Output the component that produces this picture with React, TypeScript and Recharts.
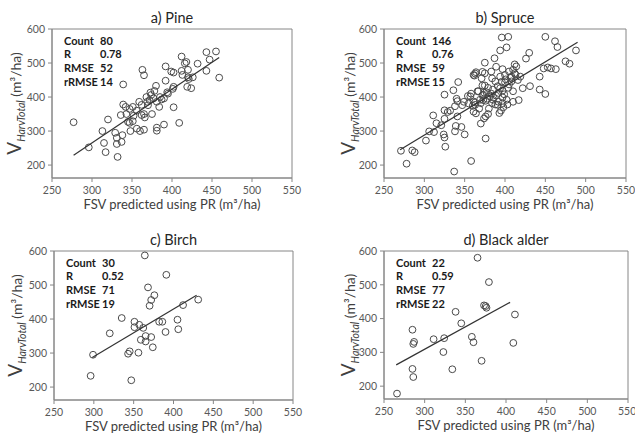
import React from 'react';
import { ScatterChart, Scatter, XAxis, YAxis, ReferenceArea, Label } from 'recharts';

const xTicks = [250, 300, 350, 400, 450, 500, 550];
const yTicks = [200, 300, 400, 500, 600];
const xDomain: [number, number] = [250, 550];
const yDomain: [number, number] = [162, 600];

const statLabels = ['Count', 'R', 'RMSE', 'rRMSE'];
const pineStats = ['80', '0.78', '52', '14'];
const spruceStats = ['146', '0.76', '59', '15'];
const birchStats = ['30', '0.52', '71', '19'];
const alderStats = ['22', '0.59', '77', '22'];

const pinePoints: [number, number][] = [
  [277, 326], [296, 252], [313, 300], [315, 265], [317, 238], [320, 334], [329, 295], [331, 280],
  [331, 262], [332, 224], [337, 268], [338, 288], [336, 347], [339, 378], [342, 371], [339, 437],
  [343, 350], [345, 327], [347, 324], [351, 371], [351, 329], [348, 300], [356, 307], [359, 386],
  [360, 300], [363, 480], [365, 464], [362, 347], [365, 304], [362, 377], [365, 350], [366, 340],
  [369, 386], [370, 376], [372, 391], [373, 413], [375, 350], [377, 396], [380, 433], [381, 386],
  [381, 310], [381, 301], [384, 371], [387, 393], [390, 319], [390, 396], [392, 448], [392, 490],
  [394, 414], [399, 475], [401, 424], [402, 370], [402, 472], [402, 430], [409, 324], [412, 519],
  [412, 477], [413, 465], [416, 499], [418, 503], [419, 430], [420, 480], [420, 458], [424, 426],
  [426, 458], [432, 498], [443, 532], [443, 477], [447, 510], [455, 534], [459, 457], [421, 453],
  [352, 345], [356, 360], [368, 400], [374, 406], [378, 418], [385, 400], [395, 410], [347, 365],
];

const sprucePoints: [number, number][] = [
  [271, 242], [278, 204], [285, 243], [288, 238], [302, 272], [306, 299], [312, 297], [315, 323],
  [311, 346], [321, 317], [324, 290], [325, 281], [326, 254], [325, 361], [325, 336], [329, 356],
  [338, 299], [339, 315], [350, 290], [341, 343], [338, 373], [340, 395], [325, 407], [336, 420],
  [342, 444], [363, 469], [372, 474], [367, 417], [358, 410], [354, 403], [349, 386], [347, 376],
  [355, 381], [360, 374], [363, 384], [368, 366], [372, 405], [375, 434], [358, 212], [337, 181],
  [341, 388], [346, 312], [364, 352], [373, 391], [374, 413], [361, 465], [332, 360],
  [396, 575], [404, 577], [402, 546], [394, 537], [387, 514], [375, 501], [389, 489], [397, 482],
  [412, 496], [414, 490], [410, 480], [405, 475], [413, 466], [419, 460], [408, 460], [400, 465],
  [394, 460], [383, 475], [384, 455], [364, 473], [362, 463], [375, 470], [371, 455], [426, 513],
  [430, 530], [450, 577], [462, 564], [465, 547], [475, 505], [480, 498], [443, 460], [448, 484],
  [453, 487], [457, 484], [463, 482], [431, 432], [422, 426], [443, 422], [450, 409], [410, 386],
  [417, 391], [388, 446], [400, 443], [408, 446], [416, 450], [372, 434], [379, 427], [385, 422],
  [391, 432], [397, 419], [404, 427], [410, 417], [366, 417], [373, 407], [381, 402], [389, 404],
  [397, 399], [357, 402], [361, 387], [370, 382], [376, 389], [384, 382], [391, 377], [397, 382],
  [363, 377], [395, 360], [393, 353], [361, 357], [379, 350], [376, 343], [374, 337], [370, 322],
  [376, 278], [488, 537],
  [378, 395], [383, 410], [386, 398], [392, 412], [399, 408], [402, 392], [405, 437], [394, 426],
  [388, 378], [380, 366], [396, 445], [401, 452], [407, 457], [412, 470], [385, 392], [377, 414],
  [369, 392], [392, 386], [398, 370], [403, 378],
];

const birchPoints: [number, number][] = [
  [364, 587], [391, 530], [368, 493], [376, 470], [372, 456], [370, 439], [335, 403], [351, 392],
  [351, 376], [362, 374], [357, 383], [320, 358], [382, 392], [386, 392], [405, 398], [406, 370],
  [390, 362], [412, 441], [431, 457], [365, 350], [372, 347], [359, 339], [365, 334], [374, 317],
  [345, 305], [343, 298], [356, 301], [299, 295], [296, 233], [347, 220],
];

const alderPoints: [number, number][] = [
  [365, 580], [379, 508], [373, 439], [375, 437], [376, 432], [411, 412], [338, 420], [345, 386],
  [285, 367], [287, 331], [286, 325], [311, 339], [324, 342], [358, 346], [360, 330], [409, 328],
  [323, 301], [370, 275], [334, 250], [285, 251], [286, 227], [266, 178],
];

const pineFit: [number, number][] = [[277, 229], [459, 516]];
const spruceFit: [number, number][] = [[270, 245], [490, 561]];
const birchFit: [number, number][] = [[298, 287], [429, 470]];
const alderFit: [number, number][] = [[265, 263], [405, 448]];

const W = 635;
const H = 434;
const FONT = 'Lato, "Open Sans", sans-serif';
const Y_AXIS_W = 40;
const X_AXIS_H = 30;

type PanelProps = {
  title: string;
  stats: string[];
  points: [number, number][];
  fit: [number, number][];
  plotLeft: number;
  plotTop: number;
  plotRight: number;
  plotBottom: number;
  yLabelX: number;
};

const Dot = (p: any) => (
  <circle cx={p.cx} cy={p.cy} r={3.4} fill="none" stroke="#4a4a4a" strokeWidth={1} />
);
const NoDot = () => <g />;

function Panel({ title, stats, points, fit, plotLeft, plotTop, plotRight, plotBottom, yLabelX }: PanelProps) {
  const data = points.map(([x, y]) => ({ x, y }));
  const fitData = fit.map(([x, y]) => ({ x, y }));
  const margin = {
    left: plotLeft - Y_AXIS_W,
    top: plotTop,
    right: W - plotRight,
    bottom: H - plotBottom - X_AXIS_H,
  };
  const cx = (plotLeft + plotRight) / 2;
  const cy = (plotTop + plotBottom) / 2;
  return (
    <div style={{ position: 'absolute', left: 0, top: 0, width: W, height: H }}>
      <ScatterChart width={W} height={H} margin={margin}>
        <XAxis
          type="number"
          dataKey="x"
          domain={xDomain}
          ticks={xTicks}
          allowDataOverflow
          height={X_AXIS_H}
          tickSize={4}
          tickMargin={5}
          stroke="#868686"
          tick={{ fill: '#595959', fontSize: 10.5, fontFamily: FONT }}
        >
          <Label
            content={() => (
              <text x={cx} y={plotBottom + 31} textAnchor="middle" fill="#404040" fontSize={13} fontFamily={FONT}>
                FSV predicted using PR (m³/ha)
              </text>
            )}
          />
        </XAxis>
        <YAxis
          type="number"
          dataKey="y"
          domain={yDomain}
          ticks={yTicks}
          allowDataOverflow
          width={Y_AXIS_W}
          tickSize={4}
          tickMargin={3}
          stroke="#868686"
          tick={{ fill: '#595959', fontSize: 10.5, fontFamily: FONT }}
        >
          <Label
            content={() => (
              <text
                x={yLabelX}
                y={cy}
                transform={`rotate(-90 ${yLabelX} ${cy})`}
                textAnchor="middle"
                fill="#404040"
                fontFamily={FONT}
              >
                <tspan fontSize={19}>V</tspan>
                <tspan fontSize={10.5} fontStyle="italic" dy={4}>HarvTotal</tspan>
                <tspan fontSize={14} dy={-4}> (m³/ha)</tspan>
              </text>
            )}
          />
        </YAxis>
        <ReferenceArea x1={250} x2={550} y1={162} y2={600} fill="none" stroke="#868686" strokeWidth={1} />
        <Scatter data={data} shape={Dot} isAnimationActive={false} />
        <Scatter
          data={fitData}
          shape={NoDot}
          line={{ stroke: '#333333', strokeWidth: 1.2 }}
          isAnimationActive={false}
        />
      </ScatterChart>
      <div
        style={{
          position: 'absolute',
          left: plotLeft,
          width: plotRight - plotLeft,
          top: plotTop - 21,
          height: 20,
          lineHeight: '20px',
          textAlign: 'center',
          fontFamily: FONT,
          fontSize: 14.5,
          color: '#262626',
        }}
      >
        {title}
      </div>
      {statLabels.map((lab, i) => (
        <div
          key={lab}
          style={{
            position: 'absolute',
            left: plotLeft + 12,
            top: plotTop + 11.5 + i * 13.7 - 7,
            height: 14,
            lineHeight: '14px',
            fontFamily: FONT,
            fontWeight: 700,
            fontSize: 11,
            color: '#1a1a1a',
            whiteSpace: 'nowrap',
          }}
        >
          <span style={{ display: 'inline-block', width: 36 }}>{lab}</span>
          <span>{stats[i]}</span>
        </div>
      ))}
    </div>
  );
}

export default function App() {
  return (
    <div style={{ position: 'absolute', left: 0, top: 0, width: W, height: H, background: '#fff' }}>
      <Panel title="a) Pine" stats={pineStats} points={pinePoints} fit={pineFit}
        plotLeft={52} plotTop={29} plotRight={292} plotBottom={178} yLabelX={21} />
      <Panel title="b) Spruce" stats={spruceStats} points={sprucePoints} fit={spruceFit}
        plotLeft={384} plotTop={29} plotRight={626} plotBottom={178} yLabelX={355} />
      <Panel title="c) Birch" stats={birchStats} points={birchPoints} fit={birchFit}
        plotLeft={54} plotTop={251} plotRight={293} plotBottom={400} yLabelX={22} />
      <Panel title="d) Black alder" stats={alderStats} points={alderPoints} fit={alderFit}
        plotLeft={384} plotTop={251} plotRight={628} plotBottom={399} yLabelX={355} />
    </div>
  );
}
